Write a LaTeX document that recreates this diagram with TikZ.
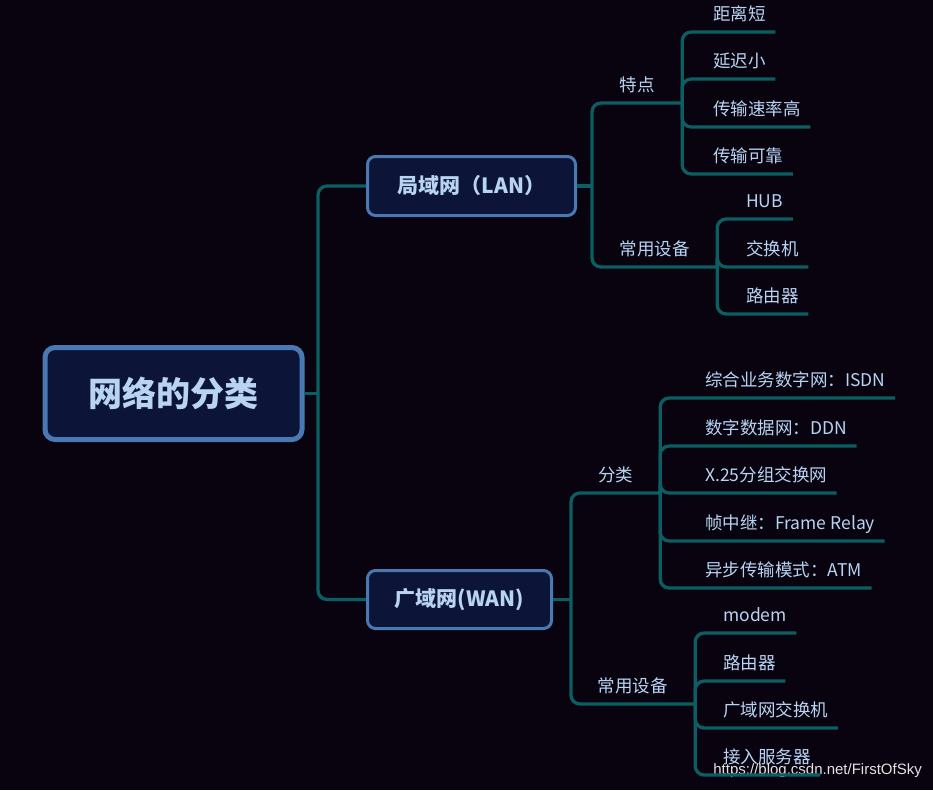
\documentclass[tikz,border=0pt]{standalone}
\usepackage{fontspec}
\setmainfont{Noto Sans CJK SC}
\newfontfamily\markfont{Liberation Sans}
\usepackage{xcolor}
\definecolor{mapbg}  {RGB}{8 , 3 , 15}
\definecolor{mapline}{RGB}{11 , 94 , 98}
\definecolor{mapedge}{RGB}{74 , 120 , 178}
\definecolor{mapfill}{RGB}{12 , 21 , 56}
\definecolor{maptext}{RGB}{184 , 212 , 242}

\begin{document}
\begin{tikzpicture}[
  x=1pt, y=-1pt,
  every node/.style={font=\fontsize{17.5}{17.5}\selectfont, text=maptext, inner sep=0pt},
  topic/.style={draw=mapedge, fill=mapfill, line width=3pt, rounded corners=8pt, font=\bfseries\fontsize{21}{21}\selectfont},
  rootbox/.style={topic, line width=5pt, rounded corners=10pt, font=\bfseries\fontsize{34}{34}\selectfont},
  sub/.style={anchor=south, inner ysep=7.5pt, text height=13pt, text depth=4pt},
  leaf/.style={anchor=south west, inner xsep=9.5pt, inner ysep=7.5pt, text height=13pt, text depth=4pt},
  link/.style={draw=mapline, line width=3.3pt, rounded corners=9pt}
]
  \fill[mapbg] (0,0) rectangle (933,790);
  \useasboundingbox (0,0) rectangle (933,790);

  % Topics
  \node (root) [rootbox, minimum width=257pt, minimum height=92pt] at (173.5,393.5) {网络的分类};
  \node (lan) [topic, minimum width=208pt, minimum height=59pt] at (471.5,186) {局域网（LAN）};
  \node (wan) [topic, minimum width=184pt, minimum height=58pt] at (459.5,599.5) {广域网(WAN)};
  \coordinate (rootfork) at (318,393.5);
  \coordinate (lanfork) at (592,186);
  \coordinate (wanfork) at (571,599.5);

  % LAN branch
  \node (tedian) [sub, minimum width=90pt] at (637,103) {特点};
  \node (lanequip) [sub, minimum width=125pt] at (654.5,267) {常用设备};
  \node (juli) [leaf] at (703.5,32) {距离短};
  \node (yanchi) [leaf] at (703.5,79) {延迟小};
  \node (sulv) [leaf] at (703.5,127) {传输速率高};
  \node (kekao) [leaf] at (703.5,174) {传输可靠};
  \node (hub) [leaf] at (736.5,219) {HUB};
  \node (jiaohuan) [leaf] at (736.5,267) {交换机};
  \node (luyou) [leaf] at (736.5,314) {路由器};

  % WAN branch
  \node (fenlei) [sub, minimum width=89pt] at (615.5,493) {分类};
  \node (wanequip) [sub, minimum width=125pt] at (632.5,704) {常用设备};
  \node (isdn) [leaf] at (695.5,398) {综合业务数字网：ISDN};
  \node (ddn) [leaf] at (695.5,446) {数字数据网：DDN};
  \node (xquan) [leaf] at (695.5,493) {X.25分组交换网};
  \node (frame) [leaf] at (695.5,541) {帧中继：Frame Relay};
  \node (atm) [leaf] at (695.5,588) {异步传输模式：ATM};
  \node (modem) [leaf] at (713.5,633) {modem};
  \node (wanluyou) [leaf] at (713.5,681) {路由器};
  \node (wanjiaohuan) [leaf] at (713.5,728) {广域网交换机};
  \node (jieru) [leaf] at (713.5,775) {接入服务器};

  \node (mark) [font=\markfont\fontsize{15}{15}\selectfont, text=white!78!gray, anchor=east] at (922,771) {https://blog.csdn.net/FirstOfSky};

  % Paths
  \draw [link] (root.east) -- (rootfork);
  \draw [link] (lan.west) -| (rootfork) |- (wan.west);
  \draw [link] (lan.east) -- (lanfork);
  \draw [link] (wan.east) -- (wanfork);
  \draw [link] (tedian.south east) -| (lanfork) |- (lanequip.south east);
  \draw [link] (fenlei.south east) -| (wanfork) |- (wanequip.south east);
  \foreach \n in {juli,yanchi,sulv,kekao}
    \draw [link] (tedian.south east) |- (\n.south east);
  \foreach \n in {hub,jiaohuan,luyou}
    \draw [link] (lanequip.south east) |- (\n.south east);
  \foreach \n in {isdn,ddn,xquan,frame,atm}
    \draw [link] (fenlei.south east) |- (\n.south east);
  \foreach \n in {modem,wanluyou,wanjiaohuan,jieru}
    \draw [link] (wanequip.south east) |- (\n.south east);
\end{tikzpicture}
\end{document}
